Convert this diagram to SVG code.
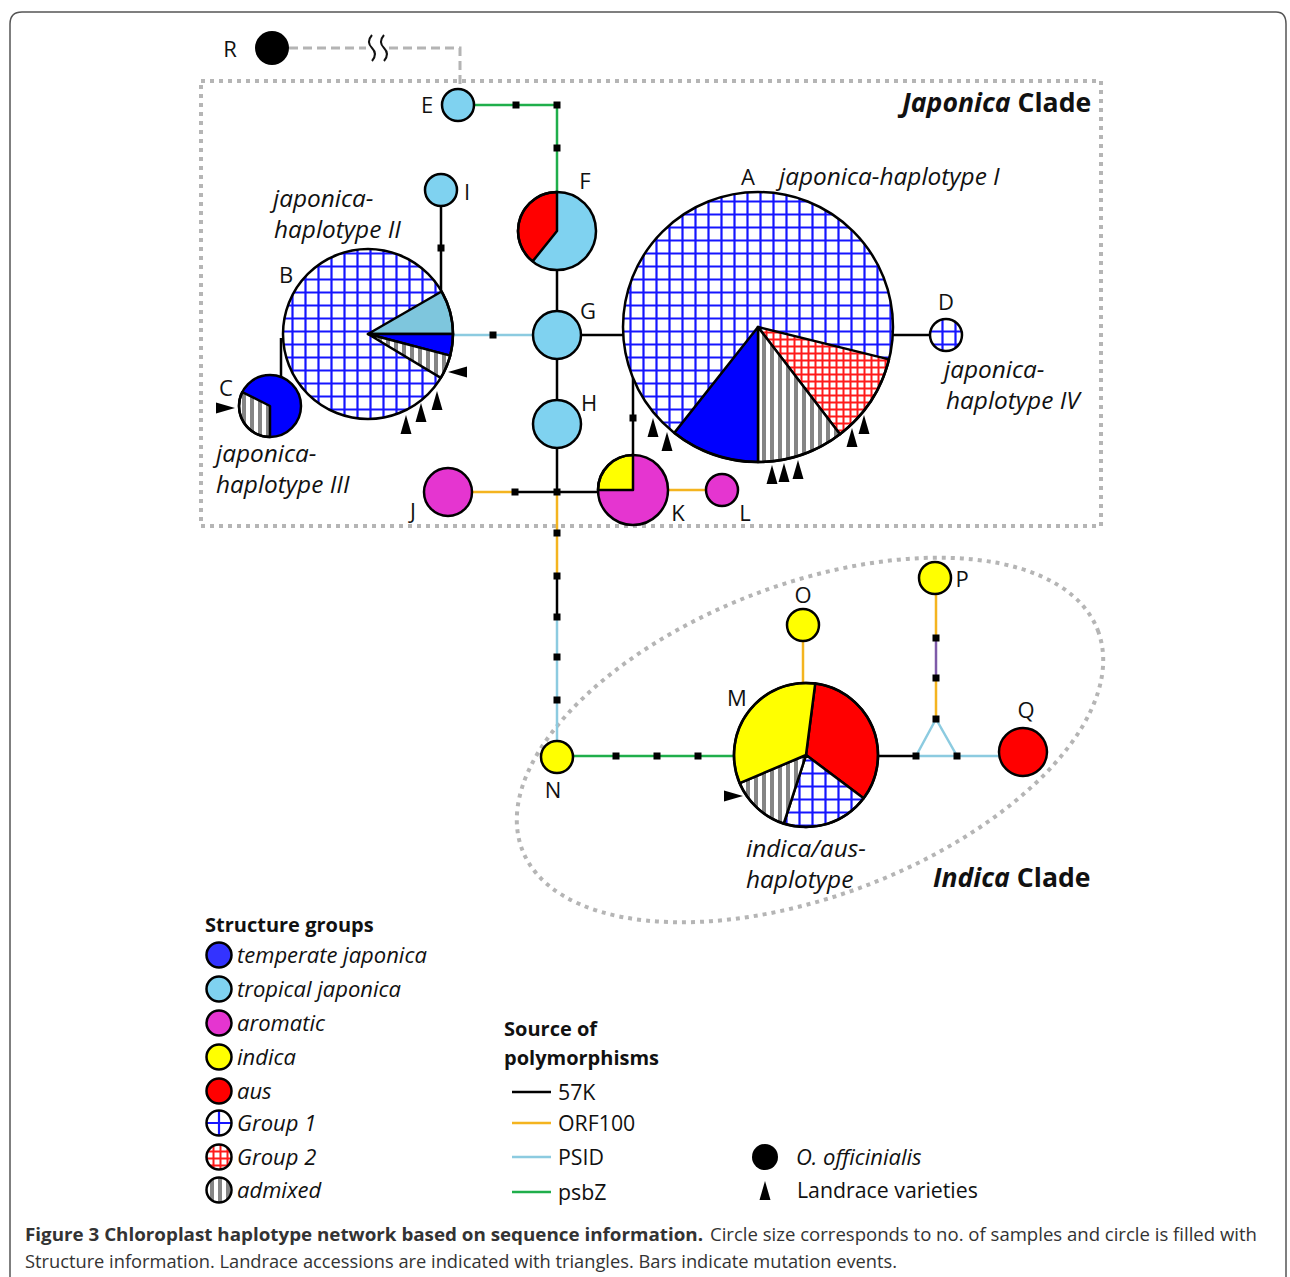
<svg xmlns="http://www.w3.org/2000/svg" width="1290" height="1277" viewBox="0 0 1290 1277">
<style>
.lbl{font-family:"Open Sans","Liberation Sans",sans-serif;font-size:22px;fill:#111}
.lg{font-family:"Open Sans","Liberation Sans",sans-serif;font-size:21.3px;fill:#111}
.it{font-family:"Open Sans","Liberation Sans",sans-serif;font-size:22px;font-style:italic;fill:#111}
.it2{font-family:"Open Sans","Liberation Sans",sans-serif;font-size:24.4px;font-style:italic;fill:#111}
.hd{font-family:"Open Sans","Liberation Sans",sans-serif;font-size:20px;font-weight:bold;fill:#111}
.clade{font-family:"Open Sans","Liberation Sans",sans-serif;font-size:26.6px;font-weight:bold;fill:#111}
.cap{font-family:"Open Sans","Liberation Sans",sans-serif;font-size:18px;fill:#333}
.n{stroke:#000;stroke-width:2.5}
.ol{fill:none;stroke:#000;stroke-width:2.5}
.sl{stroke:#000;stroke-width:2.5;stroke-linejoin:round}
.e{fill:none;stroke-width:2.5}
.k{stroke:#000}.o{stroke:#f4b41f}.p{stroke:#8ccbe0}.g{stroke:#1fae4b}.v{stroke:#7e5aa8}
.bar{fill:#000}
.dot{fill:none;stroke:#b5b5b5;stroke-width:4;stroke-dasharray:4 5}
.tri{fill:#000}
.tj{fill:#7fd2f0}.tb{fill:#0000ff}.ar{fill:#e535d0}.in{fill:#ffff00}.au{fill:#ff0000}
</style>
<defs>
<pattern id="g1" patternUnits="userSpaceOnUse" width="13" height="13"><rect width="13" height="13" fill="#fff"/><path d="M6.5,0V13M0,6.5H13" stroke="#1515ff" stroke-width="2.2"/></pattern>
<pattern id="g2" patternUnits="userSpaceOnUse" width="7" height="7"><rect width="7" height="7" fill="#fff"/><path d="M3.5,0V7M0,3.5H7" stroke="#ff1a1a" stroke-width="2"/></pattern>
<pattern id="adm" patternUnits="userSpaceOnUse" width="8" height="8"><rect width="8" height="8" fill="#fff"/><rect x="2" width="4" height="8" fill="#858585"/></pattern>
<path id="tu" d="M0,0 L5.5,19 L-5.5,19 Z"/>
<path id="tr" d="M0,0 L-19,-5.5 L-19,5.5 Z"/>
<path id="tl" d="M0,0 L19,-5.5 L19,5.5 Z"/>
</defs>
<rect width="1290" height="1277" fill="#fff"/>
<path d="M10,1277 V24 Q10,12 22,12 H1276 Q1286,12 1286,24 V1277" fill="none" stroke="#555" stroke-width="1.5"/>

<g id="clades">
<rect class="dot" x="201" y="81" width="900" height="445"/>
<ellipse class="dot" cx="810" cy="740" rx="308" ry="156" transform="rotate(-20.8 810 740)"/>
<text class="clade" x="902" y="112"><tspan font-style="italic">Japonica</tspan> Clade</text>
<text class="clade" x="933" y="887"><tspan font-style="italic">Indica</tspan> Clade</text>
</g>

<g id="connectors">
<path d="M289,48 H366 M389,48 H460 V89" fill="none" stroke="#b4b4b4" stroke-width="3" stroke-dasharray="9 5"/>
<path d="M372,35 q-6,7 0,13 t0,13 M384,35 q-6,7 0,13 t0,13" fill="none" stroke="#111" stroke-width="2"/>
<path class="e g" d="M474,105 H557 V192"/>
<path class="e k" d="M557,270 V311 M557,359 V400 M557,448 V492"/>
<path class="e o" d="M472,492 H515"/>
<path class="e k" d="M515,492 H598"/>
<path class="e o" d="M557,492 V576"/>
<path class="e k" d="M557,576 V617"/>
<path class="e p" d="M557,617 V741"/>
<path class="e k" d="M581,335 H623 M893,335 H930"/>
<path class="e p" d="M453,335 H533"/>
<path class="e k" d="M441,206 V292 M281,338 V376 M633,455 V378"/>
<path class="e o" d="M668,490 H706"/>
<path class="e g" d="M573,756 H735"/>
<path class="e o" d="M803,641 V683"/>
<path class="e k" d="M878,756 H916"/>
<path class="e p" d="M916,756 L936,719 L957,756 Z M957,756 H999"/>
<path class="e o" d="M936,594 V638 M936,678 V719"/>
<path class="e v" d="M936,638 V678"/>
<g class="bar">
<rect x="512.5" y="101.5" width="7" height="7"/><rect x="553.5" y="101.5" width="7" height="7"/><rect x="553.5" y="144.5" width="7" height="7"/>
<rect x="437.5" y="244.5" width="7" height="7"/><rect x="489.5" y="331.5" width="7" height="7"/>
<rect x="511.5" y="488.5" width="7" height="7"/><rect x="553.5" y="488.5" width="7" height="7"/>
<rect x="629.5" y="414.5" width="7" height="7"/>
<rect x="553.5" y="529.5" width="7" height="7"/><rect x="553.5" y="572.5" width="7" height="7"/><rect x="553.5" y="613.5" width="7" height="7"/><rect x="553.5" y="653.5" width="7" height="7"/><rect x="553.5" y="696.5" width="7" height="7"/>
<rect x="612.5" y="752.5" width="7" height="7"/><rect x="653.5" y="752.5" width="7" height="7"/><rect x="694.5" y="752.5" width="7" height="7"/>
<rect x="932.5" y="634.5" width="7" height="7"/><rect x="932.5" y="674.5" width="7" height="7"/><rect x="932.5" y="715.5" width="7" height="7"/><rect x="912.5" y="752.5" width="7" height="7"/><rect x="953.5" y="752.5" width="7" height="7"/>
</g>
</g>

<g id="node-R"><circle cx="272" cy="48" r="17" fill="#000"/><text class="lbl" x="230" y="57" text-anchor="middle">R</text></g>
<g id="node-E"><circle class="n tj" cx="458" cy="105" r="16"/><text class="lbl" x="427" y="113" text-anchor="middle">E</text></g>
<g id="node-F">
<circle class="tj" cx="557" cy="231" r="39"/>
<path class="au sl" d="M557,231 L557,192 A39,39 0 0,0 532.6,261.4 Z"/>
<circle class="ol" cx="557" cy="231" r="39"/>
<text class="lbl" x="585" y="189" text-anchor="middle">F</text>
</g>
<g id="node-I"><circle class="n tj" cx="441" cy="190" r="16"/><text class="lbl" x="467" y="200" text-anchor="middle">I</text></g>
<g id="node-G"><circle class="n tj" cx="557" cy="335" r="24"/><text class="lbl" x="588" y="319" text-anchor="middle">G</text></g>
<g id="node-H"><circle class="n tj" cx="557" cy="424" r="24"/><text class="lbl" x="589" y="411" text-anchor="middle">H</text></g>
<g id="node-J"><circle class="n ar" cx="448" cy="492" r="24"/><text class="lbl" x="413" y="519" text-anchor="middle">J</text></g>
<g id="node-K">
<circle class="ar" cx="633" cy="490" r="35"/>
<path class="in sl" d="M633,490 L598,490 A35,35 0 0,1 633,455 Z"/>
<circle class="ol" cx="633" cy="490" r="35"/>
<text class="lbl" x="678" y="521" text-anchor="middle">K</text>
</g>
<g id="node-L"><circle class="n ar" cx="722" cy="490" r="16"/><text class="lbl" x="745" y="521" text-anchor="middle">L</text></g>
<g id="node-D"><circle class="n" fill="url(#g1)" cx="946" cy="335" r="16"/><text class="lbl" x="946" y="310" text-anchor="middle">D</text>
<text class="it2" x="944" y="378">japonica-</text><text class="it2" x="946" y="409">haplotype IV</text></g>
<g id="node-A">
<circle fill="url(#g1)" cx="758" cy="327" r="135"/>
<path class="sl" fill="url(#g2)" d="M758,327 L889,359.4 A135,135 0 0,1 840,434.2 Z"/>
<path class="sl" fill="url(#adm)" d="M758,327 L840,434.2 A135,135 0 0,1 758,462 Z"/>
<path class="sl tb" d="M758,327 L758,462 A135,135 0 0,1 674.3,432.9 Z"/>
<circle class="ol" cx="758" cy="327" r="135"/>
<text class="lbl" x="748" y="185" text-anchor="middle">A</text>
<text class="it2" x="779" y="185">japonica-haplotype I</text>
</g>
<g id="node-B">
<circle fill="url(#g1)" cx="368" cy="334" r="85"/>
<path class="sl" fill="#7ec6dd" d="M368,334 L441.6,291.5 A85,85 0 0,1 453,334 Z"/>
<path class="sl tb" d="M368,334 L453,334 A85,85 0 0,1 450.2,355.6 Z"/>
<path class="sl" fill="url(#adm)" d="M368,334 L450.2,355.6 A85,85 0 0,1 440.8,377.9 Z"/>
<circle class="ol" cx="368" cy="334" r="85"/>
<text class="lbl" x="286" y="283" text-anchor="middle">B</text>
<text class="it2" x="273" y="207">japonica-</text><text class="it2" x="274" y="238">haplotype II</text>
</g>
<g id="node-C">
<circle class="tb" cx="270" cy="406" r="31"/>
<path class="sl" fill="url(#adm)" d="M270,406 L270,437 A31,31 0 0,1 242.3,392.1 Z"/>
<circle class="ol" cx="270" cy="406" r="31"/>
<text class="lbl" x="226" y="396" text-anchor="middle">C</text>
<text class="it2" x="216" y="462">japonica-</text><text class="it2" x="216" y="493">haplotype III</text>
</g>
<g id="node-N"><circle class="n in" cx="557" cy="757" r="16"/><text class="lbl" x="553" y="798" text-anchor="middle">N</text></g>
<g id="node-O"><circle class="n in" cx="803" cy="625" r="16"/><text class="lbl" x="803" y="603" text-anchor="middle">O</text></g>
<g id="node-P"><circle class="n in" cx="935" cy="578" r="16"/><text class="lbl" x="962" y="587" text-anchor="middle">P</text></g>
<g id="node-Q"><circle class="n au" cx="1023" cy="752" r="24"/><text class="lbl" x="1026" y="718" text-anchor="middle">Q</text></g>
<g id="node-M">
<path class="sl au" d="M806,755 L815.2,683.6 A72,72 0 0,1 863.6,798.2 Z"/>
<path class="sl" fill="url(#g1)" d="M806,755 L863.6,798.2 A72,72 0 0,1 783.8,823.5 Z"/>
<path class="sl" fill="url(#adm)" d="M806,755 L783.8,823.5 A72,72 0 0,1 739.7,783.1 Z"/>
<path class="sl in" d="M806,755 L739.7,783.1 A72,72 0 0,1 815.2,683.6 Z"/>
<circle class="ol" cx="806" cy="755" r="72"/>
<text class="lbl" x="737" y="706" text-anchor="middle">M</text>
<text class="it2" x="746" y="857">indica/aus-</text><text class="it2" x="746" y="888">haplotype</text>
</g>

<g id="landraces" class="tri">
<use href="#tu" x="653" y="418"/><use href="#tu" x="667" y="432"/><use href="#tu" x="772" y="465"/><use href="#tu" x="784" y="463"/><use href="#tu" x="798" y="460"/><use href="#tu" x="852" y="428"/><use href="#tu" x="864" y="415"/>
<use href="#tu" x="406" y="415"/><use href="#tu" x="421" y="403"/><use href="#tu" x="437" y="391"/>
<use href="#tl" x="448" y="372"/>
<use href="#tr" x="235" y="408"/>
<use href="#tr" x="743" y="796"/>
</g>

<g id="legend-structure">
<text class="hd" x="205" y="932">Structure groups</text>
<circle class="n" fill="#3333ff" cx="219" cy="955" r="12.5"/><text class="it" x="237" y="963">temperate japonica</text>
<circle class="n tj" cx="219" cy="989" r="12.5"/><text class="it" x="237" y="997">tropical japonica</text>
<circle class="n ar" cx="219" cy="1023" r="12.5"/><text class="it" x="237" y="1031">aromatic</text>
<circle class="n in" cx="219" cy="1057" r="12.5"/><text class="it" x="237" y="1065">indica</text>
<circle class="n au" cx="219" cy="1091" r="12.5"/><text class="it" x="237" y="1099">aus</text>
<circle fill="#fff" cx="219" cy="1123" r="12.5"/><path d="M219,1111V1135M207,1123H231" stroke="#1515ff" stroke-width="2.2"/><circle class="ol" cx="219" cy="1123" r="12.5"/><text class="it" x="237" y="1131">Group 1</text>
<circle class="n" fill="url(#g2)" cx="219" cy="1157" r="12.5"/><text class="it" x="237" y="1165">Group 2</text>
<circle class="n" fill="url(#adm)" cx="219" cy="1190" r="12.5"/><text class="it" x="237" y="1198">admixed</text>
</g>

<g id="legend-source">
<text class="hd" x="504" y="1036">Source of</text>
<text class="hd" x="504" y="1065">polymorphisms</text>
<path class="e k" d="M512,1092 H551"/><text class="lg" x="558" y="1100">57K</text>
<path class="e o" d="M512,1123 H551"/><text class="lg" x="558" y="1131">ORF100</text>
<path class="e p" d="M512,1157 H551"/><text class="lg" x="558" y="1165">PSID</text>
<path class="e g" d="M512,1192 H551"/><text class="lg" x="558" y="1200">psbZ</text>
<circle cx="765" cy="1157" r="13" fill="#000"/><text class="it" x="796" y="1165">O. officinialis</text>
<use class="tri" href="#tu" x="765" y="1181"/><text class="lg" x="797" y="1198">Landrace varieties</text>
</g>

<g id="caption">
<text class="cap" x="25" y="1241" font-weight="bold" fill="#222" textLength="678" lengthAdjust="spacingAndGlyphs">Figure 3 Chloroplast haplotype network based on sequence information.</text>
<text class="cap" x="710" y="1241" textLength="547" lengthAdjust="spacingAndGlyphs">Circle size corresponds to no. of samples and circle is filled with</text>
<text class="cap" x="25" y="1268" textLength="872" lengthAdjust="spacingAndGlyphs">Structure information. Landrace accessions are indicated with triangles. Bars indicate mutation events.</text>
</g>
</svg>
